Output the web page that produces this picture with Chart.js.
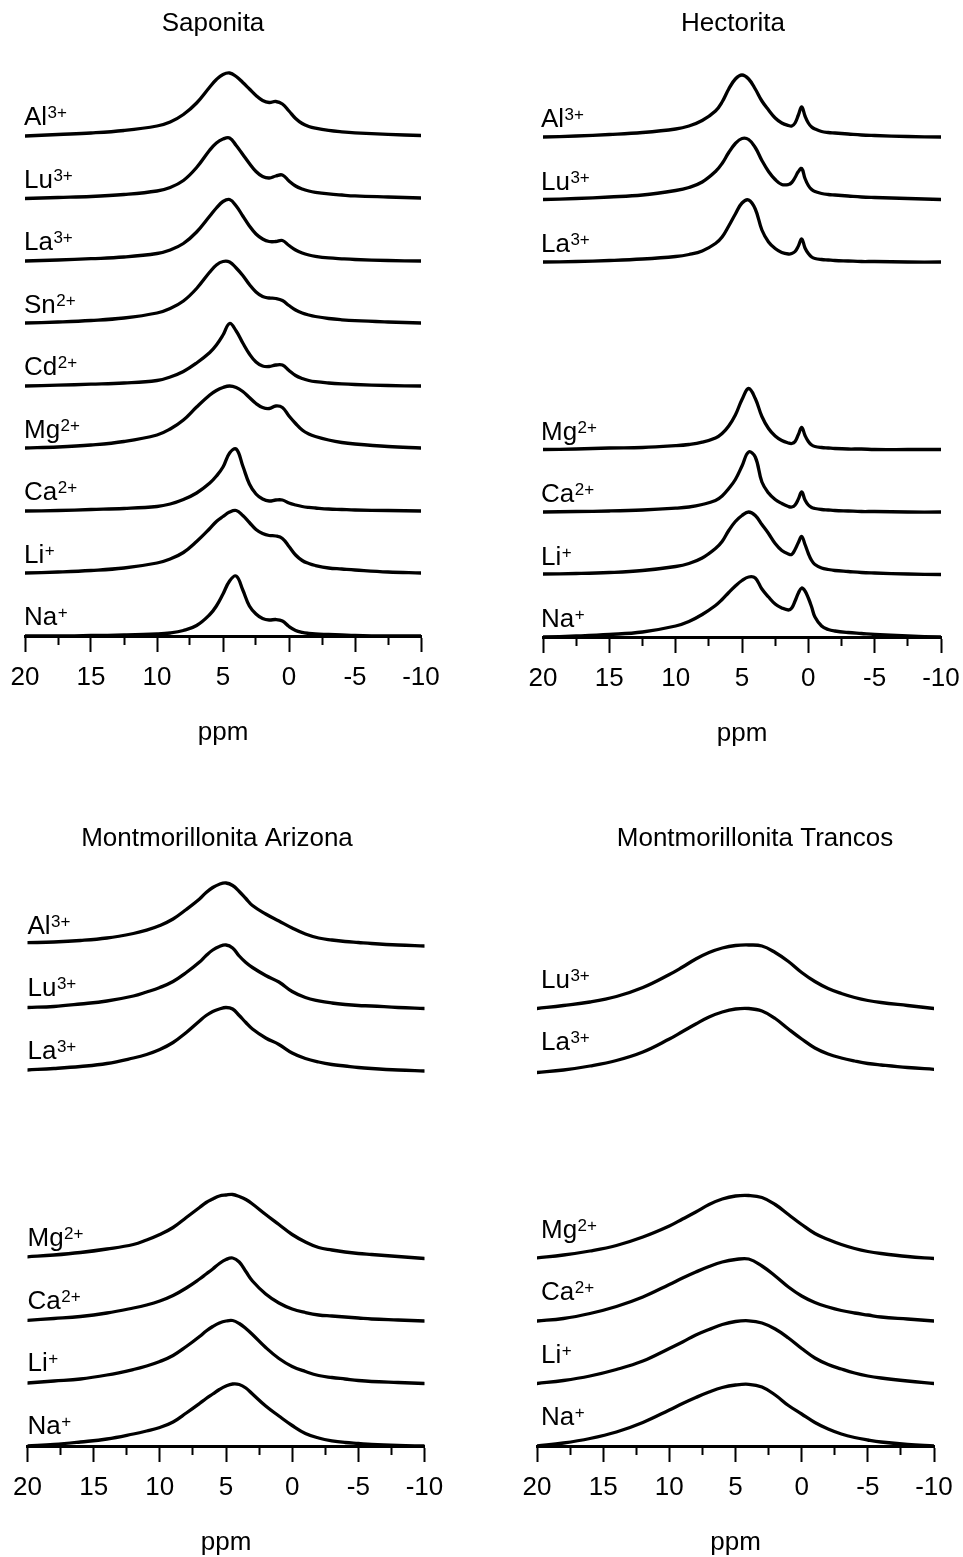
<!DOCTYPE html>
<html>
<head>
<meta charset="utf-8">
<script src="https://cdn.jsdelivr.net/npm/chart.js@4.4.1/dist/chart.umd.min.js"></script>
<style>
  html, body { margin: 0; padding: 0; background: #fff; }
  #page { position: relative; width: 963px; height: 1557px; background: #fff; overflow: hidden; }
</style>
</head>
<body>
<div id="page"></div>
<script>
// ---- axis ticks (ppm) ----
const ppmMajor = [20, 15, 10, 5, 0, -5, -10];
const ppmMinor = [17.5, 12.5, 7.5, 2.5, -2.5, -7.5];

// ---- Saponita ----
const ppmSaponita = [20, 17.5, 15, 12.5, 10, 9, 8, 7, 6, 5.5, 5, 4.5, 4, 3.5, 3, 2.5, 2, 1.5, 1, 0.5, 0, -0.5, -1, -1.5, -2, -3, -4, -5, -7.5, -10];
const sapAl = [0, 1.5, 3, 5.5, 10, 14, 21.5, 33, 49, 56.5, 61.5, 63, 59.5, 53.5, 47, 40.5, 35.5, 33.5, 34.5, 32, 25, 17.5, 12.5, 9.5, 7.8, 5.6, 4.2, 3.2, 1.6, 0.5];
const sapLu = [0, 1, 2, 4, 7.5, 11, 18, 31, 48.5, 55.5, 59.5, 60.5, 53, 44, 35, 27, 22, 20.5, 22.5, 23.5, 17.5, 12.5, 9.5, 7.5, 6.2, 4.6, 3.5, 2.6, 1.5, 0.5];
const sapLa = [0, 1, 2.3, 4, 7.5, 11, 17.5, 29, 45, 53, 59.5, 61.5, 55, 45, 35, 27, 22, 19.5, 19.5, 20.5, 15.5, 11, 8, 6, 4.7, 3.1, 2.2, 1.5, 0.5, 0];
const sapSn = [0.5, 1.5, 3, 5.5, 10.5, 15, 22.5, 35, 51.5, 58.5, 62, 61.5, 55.5, 48, 39, 31.5, 27, 25.5, 25, 23, 18, 13.5, 10.5, 8.5, 7, 5, 3.7, 2.8, 1.5, 0.5];
const sapCd = [0, 0.8, 1.8, 3, 5.5, 9, 14.5, 23, 33.5, 41, 51, 62.5, 55, 43, 32, 24, 20, 19.5, 21, 21, 15.5, 10.5, 7.5, 5.5, 4.3, 3, 2.1, 1.5, 0.5, 0];
const sapMg = [0.5, 1.5, 3.5, 7, 13.5, 19.5, 28.5, 41.5, 53.5, 58, 61, 62.5, 61, 57, 51, 45, 41, 40, 42.5, 41, 32.5, 25, 18.5, 14.5, 12, 8.5, 6, 4.5, 2, 0.5];
const sapCa = [0, 0.5, 1.5, 2.5, 4.5, 7, 11.5, 18, 28, 35, 44, 58, 62, 45, 27, 17, 12, 10, 11, 11, 8, 6, 4.5, 3.6, 3, 2, 1.5, 1, 0.5, 0];
const sapLi = [0.5, 1.5, 3, 5.5, 10.5, 14.5, 21, 32, 45, 52, 57, 61.5, 63, 58, 51, 44, 40, 38, 37.5, 35, 27, 18.5, 13, 10, 8, 5.5, 4.5, 3.5, 1.5, 0.5];
const sapNa = [0, 0, 0.5, 1, 2, 3, 5.5, 10.5, 21.5, 30, 42, 55, 60, 46, 30, 22, 17.5, 16, 16.5, 15, 9.5, 5.5, 3.6, 2.6, 2, 1.5, 1, 0.5, 0, 0];

// ---- Hectorita ----
const ppmHectorita = [20, 17.5, 15, 12.5, 10, 9, 8, 7, 6.5, 6, 5.5, 5, 4.5, 4, 3.5, 3, 2.5, 2, 1.5, 1.25, 1, 0.75, 0.5, 0.25, 0, -0.25, -0.5, -1, -1.5, -2, -3, -4, -5, -7.5, -10];
const hecAl = [0, 1, 2.5, 4.5, 8, 11, 16.5, 26, 35, 48, 58, 62, 58, 48, 36, 27, 19, 14, 11.5, 11, 14, 22, 30, 21, 14, 10, 8, 5.5, 4.5, 4, 3, 2, 1.5, 0.5, 0];
const hecLu = [0, 1, 2.5, 4.5, 9, 12, 17.5, 28, 36, 47, 56, 61, 60, 52, 39, 28, 20, 15, 15, 17, 22, 28, 31, 21, 14, 10, 8, 6, 5, 4.5, 3.5, 2.5, 2, 1, 0];
const hecLa = [0, 0.5, 1.5, 3, 5.5, 7.5, 11, 18.5, 25, 36, 48, 59, 62, 53, 32, 20, 13.5, 9.5, 8, 8.5, 10.5, 16, 23, 14, 8.5, 5, 3.5, 2.5, 2, 1.5, 1, 0.5, 0.5, 0, 0];
const hecMg = [0, 0.5, 1.5, 2, 3.8, 5, 7.3, 11.5, 16, 23.5, 34.5, 50, 61, 51, 33, 21, 13.5, 9, 6.5, 6, 8, 15, 22, 14, 8, 4.5, 3, 2, 1.5, 1, 0.5, 0.5, 0, 0, 0];
const hecCa = [0, 0.5, 1, 2, 3.8, 5, 7.5, 11.5, 16, 23.5, 32.5, 46, 60, 55, 30, 19, 12.5, 8.5, 5.5, 5, 7, 13, 20, 12, 7, 4.5, 3.5, 2.5, 2, 1.5, 1, 0.5, 0.5, 0, 0];
const hecLi = [0.5, 1, 2, 4, 8, 11, 16.5, 26, 33, 44, 53, 59, 62.5, 59, 50, 41, 31, 24, 20.5, 20, 25, 32, 38, 30, 21, 14, 10, 6.5, 5, 4, 3, 2, 1.5, 0.5, 0];
const hecNa = [0, 1, 2.5, 5, 11, 15.5, 22.5, 31.5, 37.5, 44.5, 51, 56.5, 60, 59, 48, 40, 33, 29, 27, 29, 36, 44, 49, 46, 39, 30, 20, 11, 7.5, 6, 4.5, 3.5, 2.5, 1, 0];

// ---- Montmorillonita Arizona ----
const ppmArizona = [20, 18, 16, 14, 12, 11, 10, 9, 8, 7, 6.5, 6, 5.5, 5, 4.5, 4, 3.5, 3, 2, 1, 0, -1, -2, -3, -4, -5, -6, -8, -10];
const ariAl = [3.3, 4, 5.5, 8, 12.5, 15.8, 20.5, 27, 36.5, 47, 53.5, 58.5, 61.8, 63, 60.5, 54.5, 47.5, 40.5, 32, 25, 18, 12, 8, 6, 4.5, 3.5, 2.5, 1, 0];
const ariLu = [1, 2, 4.5, 7.5, 12.5, 16.5, 21, 27, 36, 46.5, 53, 58.5, 62, 63.5, 60.5, 52.5, 46, 41, 33, 26.5, 17, 11, 7.7, 5.5, 4, 3, 2.5, 1, 0];
const ariLa = [1, 2.5, 4.5, 7.5, 13, 16.5, 21.5, 28.5, 38.5, 50, 55.5, 59.5, 62, 63.5, 62, 55.5, 48.5, 42, 33, 26.5, 18, 12.5, 9, 6.5, 5, 3.5, 2.5, 1, 0];
const ariMg = [1.7, 3.5, 6, 9.5, 14, 18.5, 24, 31, 41, 51, 56, 59.5, 62.5, 63.5, 64, 62, 59, 54.5, 44, 34, 24, 16.5, 11, 8.5, 6.5, 5, 4, 2, 0];
const ariCa = [0.7, 2.5, 4.5, 8, 13, 16, 20, 25.5, 33, 42, 47, 52, 57.5, 61.5, 63, 59, 49.5, 40, 27, 18, 12, 8.5, 6, 5, 4, 3, 2, 1, 0];
const ariLi = [0.5, 2.5, 4.5, 8.5, 14, 17.5, 22, 28, 37, 47, 52.5, 57, 60.5, 62.5, 63, 60, 55, 49, 36, 25, 17, 12, 8, 6, 4.5, 3, 2, 1, 0];
const ariNa = [0, 1.5, 4, 7, 12, 15, 18.5, 24, 33, 42.5, 47.5, 52, 56.5, 60, 62, 61.5, 58, 52, 40, 30, 20.5, 12.5, 8, 5.2, 3.5, 2.5, 1.5, 0.5, 0];

// ---- Montmorillonita Trancos ----
const ppmTrancos = [20, 18, 16, 14, 12, 10, 9, 8, 7, 6, 5, 4, 3, 2, 1, 0, -1, -2, -3, -4, -5, -6, -8, -10];
const traLu = [0, 3, 6.5, 12, 21, 34, 41.5, 49.5, 56, 60.5, 63, 63.5, 62.5, 56, 47, 36, 27, 20, 15, 11, 8, 6, 3, 0];
const traLa = [-1.5, 1, 5, 10.5, 19, 32, 39.5, 47, 54, 59, 62, 62.5, 60, 52.5, 42, 32, 23, 17, 13, 10, 7.5, 6, 3.5, 1.7];
const traMg = [0.7, 3.5, 7.5, 13, 21.5, 32.5, 39.5, 46.5, 54, 59.5, 62.5, 63, 61, 54, 44, 34, 25, 19, 14, 10, 7, 5, 2, 0];
const traCa = [0, 2.5, 7.5, 14.5, 24, 36.5, 43, 49, 54.5, 59, 61.5, 62, 55, 45, 34, 25, 18.5, 14, 10.5, 8, 6, 4, 2, 0];
const traLi = [0, 3, 7.5, 14, 22.5, 35, 41.5, 48.5, 54, 59, 62, 62.7, 60.5, 54.5, 45.5, 35, 25.5, 19, 14.5, 10.5, 7.5, 5.5, 2.5, 0];
const traNa = [0, 3, 7.5, 14, 23.5, 36, 42.5, 48.5, 54, 58.5, 61, 61.7, 59, 51, 40.5, 32, 23.5, 17, 12, 8.5, 6, 4, 1.5, 0];

// ---- ions: symbol, charge and stacking row (0 = bottom) ----
const ionRows = { Al: 8, Lu: 7, La: 6, Sn: 5, Cd: 4, Mg: 3, Ca: 2, Li: 1, Na: 0 };
const ionCharges = { Al: '3+', Lu: '3+', La: '3+', Sn: '2+', Cd: '2+', Mg: '2+', Ca: '2+', Li: '+', Na: '+' };

// ---- drawing settings ----
const ROW_STEP = 62.5;          // vertical offset between stacked spectra
const Y_TOP = 575;               // top of the stacking range
const AXIS_BOX = 112;            // height reserved for the ppm axis
const FONT = '"Liberation Sans", Arial, Helvetica, sans-serif';
const INK = '#000';

const panels = [
  { title: 'Saponita', ppm: ppmSaponita,
    series: { Al: sapAl, Lu: sapLu, La: sapLa, Sn: sapSn, Cd: sapCd, Mg: sapMg, Ca: sapCa, Li: sapLi, Na: sapNa },
    box: { left: 0, top: 0, width: 481, height: 780 }, x20: 25, xm10: 421, axis: 636,
    titleX: 213, titleY: 31, labelDx: -1, labelLift: 11 },
  { title: 'Hectorita', ppm: ppmHectorita,
    series: { Al: hecAl, Lu: hecLu, La: hecLa, Mg: hecMg, Ca: hecCa, Li: hecLi, Na: hecNa },
    box: { left: 481, top: 0, width: 482, height: 780 }, x20: 543, xm10: 941, axis: 637,
    titleX: 252, titleY: 31, labelDx: -2, labelLift: 10 },
  { title: 'Montmorillonita Arizona', ppm: ppmArizona,
    series: { Al: ariAl, Lu: ariLu, La: ariLa, Mg: ariMg, Ca: ariCa, Li: ariLi, Na: ariNa },
    box: { left: 0, top: 780, width: 481, height: 777 }, x20: 27.5, xm10: 424.5, axis: 1446,
    titleX: 217, titleY: 66, labelDx: 0, labelLift: 12.5 },
  { title: 'Montmorillonita Trancos', ppm: ppmTrancos,
    series: { Lu: traLu, La: traLa, Mg: traMg, Ca: traCa, Li: traLi, Na: traNa },
    box: { left: 481, top: 780, width: 482, height: 777 }, x20: 537, xm10: 934, axis: 1446,
    titleX: 274, titleY: 66, labelDx: 4, labelLift: 21 }
];

const allTicks = [...ppmMajor, ...ppmMinor].sort((a, b) => a - b);

// titles and ion labels (with superscript charges)
function panelTextPlugin(p) {
  return {
    id: 'panelText',
    afterDraw(chart) {
      const { ctx, scales: { x, y } } = chart;
      ctx.save();
      ctx.fillStyle = INK;
      ctx.textBaseline = 'alphabetic';
      ctx.font = `26px ${FONT}`;
      ctx.textAlign = 'center';
      ctx.fillText(p.title, p.titleX, p.titleY);
      ctx.textAlign = 'left';
      Object.keys(p.series).forEach(ion => {
        const px = x.getPixelForValue(20) + p.labelDx;
        const py = y.getPixelForValue(ionRows[ion] * ROW_STEP) - p.labelLift;
        ctx.font = `26px ${FONT}`;
        ctx.fillText(ion, px, py);
        const w = ctx.measureText(ion).width;
        ctx.font = `17px ${FONT}`;
        ctx.fillText(ionCharges[ion], px + w + 0.5, py - 7);
      });
      ctx.restore();
    }
  };
}

const page = document.getElementById('page');

panels.forEach(p => {
  const cv = document.createElement('canvas');
  cv.width = p.box.width;
  cv.height = p.box.height;
  cv.style.cssText = `position:absolute;left:${p.box.left}px;top:${p.box.top}px;width:${p.box.width}px;height:${p.box.height}px`;
  page.appendChild(cv);

  const datasets = Object.keys(p.series).map(ion => ({
    label: ion,
    data: p.ppm.map((v, i) => ({ x: v, y: ionRows[ion] * ROW_STEP + p.series[ion][i] })),
    borderColor: INK,
    borderWidth: 3.3,
    borderJoinStyle: 'round',
    borderCapStyle: 'round',
    pointRadius: 0,
    fill: false,
    tension: 0.4
  }));

  new Chart(cv, {
    type: 'line',
    data: { datasets },
    plugins: [panelTextPlugin(p)],
    options: {
      responsive: false,
      animation: false,
      devicePixelRatio: 1,
      events: [],
      layout: {
        padding: {
          left: p.x20 - p.box.left,
          right: p.box.left + p.box.width - p.xm10,
          top: p.axis - p.box.top - Y_TOP,
          bottom: p.box.top + p.box.height - p.axis - AXIS_BOX
        }
      },
      plugins: { legend: { display: false }, tooltip: { enabled: false }, title: { display: false } },
      scales: {
        x: {
          type: 'linear', min: -10, max: 20, reverse: true, position: 'bottom',
          afterBuildTicks: s => { s.ticks = allTicks.map(v => ({ value: v })); },
          afterFit: s => { s.height = AXIS_BOX; },
          ticks: {
            autoSkip: false, maxRotation: 0, minRotation: 0, padding: 10, color: INK,
            font: { family: FONT, size: 26 },
            callback: v => (ppmMajor.includes(v) ? String(v) : '')
          },
          grid: {
            drawOnChartArea: false, drawTicks: true, tickLength: 16, tickWidth: 2, tickColor: INK,
            tickBorderDash: c => (c.tick && !ppmMajor.includes(c.tick.value) ? [7, 40] : [])
          },
          border: { display: true, width: 3, color: INK },
          title: { display: true, text: 'ppm', color: INK, font: { family: FONT, size: 26 }, padding: 0 }
        },
        y: { type: 'linear', display: false, min: 0, max: Y_TOP }
      }
    }
  });
});
</script>
</body>
</html>
